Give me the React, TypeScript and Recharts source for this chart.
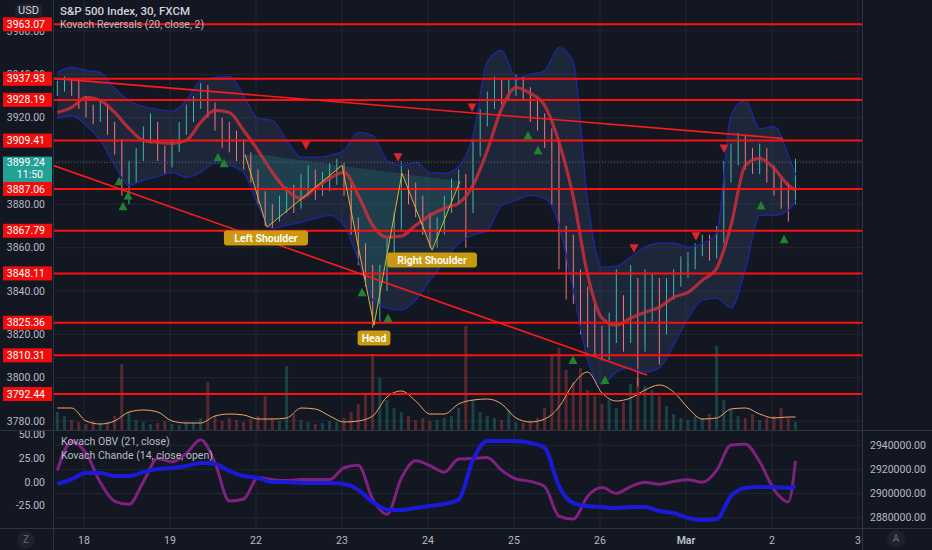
import React from "react";
import {
  ComposedChart,
  Bar,
  Line,
  Area,
  Scatter,
  XAxis,
  YAxis,
  CartesianGrid,
  ReferenceLine,
} from "recharts";

const BG = "#131722";
const GRID = "#222631";
const BORDER = "#2f3340";
const TEXT = "#b8bbc4";
const UP = "#3db7a9";
const DOWN = "#ea7880";
const FONT = "Roboto, 'Noto Sans', sans-serif";

// time axis: one slot per trading day (weekend squeezed out like TradingView)
const dayTicks = [0, 1, 2, 3, 4, 5, 6, 7, 8, 9];
const dayLabels = ["18", "19", "22", "23", "24", "25", "26", "Mar", "2", "3"];
const X_DOMAIN: [number, number] = [-0.3605, 9.0465];
const PRICE_DOMAIN: [number, number] = [3775.85, 3974.28];

const priceTicks = [3780, 3800, 3820, 3840, 3860, 3880, 3900, 3920, 3940, 3960];
const levels = [3963.07, 3937.93, 3928.19, 3909.41, 3887.06, 3867.79, 3848.11, 3825.36, 3810.31, 3792.44];
const lastPrice = 3899.24;
const lastClock = "11:50";

// 2h candles
const firstOpen = 3932;
const closes = [
  3934, 3937, 3933, 3927, 3924, 3921, 3925, 3916, 3908, 3890,
  3893, 3903, 3912, 3916, 3905, 3898, 3906, 3914, 3921, 3927,
  3932, 3925, 3918, 3914, 3910, 3906, 3902, 3894, 3884, 3876,
  3874, 3879, 3884, 3881, 3889, 3893, 3886, 3891, 3895, 3897,
  3888, 3872, 3858, 3846, 3834, 3845, 3858, 3870, 3892, 3886,
  3880, 3872, 3864, 3870, 3880, 3887, 3892, 3878, 3906, 3920,
  3928, 3936, 3931, 3935, 3938, 3933, 3924, 3918, 3912, 3906,
  3870, 3850, 3846, 3832, 3826, 3818, 3814, 3822, 3828, 3820,
  3838, 3816, 3832, 3842, 3824, 3840, 3846, 3850, 3853, 3858,
  3862, 3858, 3866, 3894, 3904, 3910, 3902, 3898, 3904, 3895,
  3888, 3884, 3880, 3899,
];
const highs = [
  3937, 3939, 3938, 3937, 3930, 3926, 3928, 3926, 3918, 3910,
  3900, 3906, 3916, 3922, 3918, 3907, 3910, 3918, 3926, 3930,
  3936, 3935, 3927, 3920, 3918, 3914, 3910, 3904, 3896, 3886,
  3880, 3884, 3888, 3889, 3894, 3898, 3896, 3895, 3899, 3901,
  3899, 3890, 3874, 3862, 3852, 3852, 3864, 3876, 3900, 3896,
  3890, 3884, 3876, 3874, 3884, 3892, 3896, 3894, 3910, 3924,
  3932, 3939, 3938, 3938, 3940, 3939, 3934, 3928, 3922, 3915,
  3910, 3870, 3866, 3850, 3842, 3834, 3824, 3830, 3850, 3838,
  3852, 3846, 3850, 3848, 3846, 3846, 3850, 3856, 3858, 3862,
  3866, 3866, 3870, 3900, 3908, 3913, 3912, 3906, 3908, 3906,
  3898, 3892, 3890, 3901,
];
const lows = [
  3930, 3932, 3930, 3924, 3920, 3917, 3918, 3912, 3903, 3884,
  3880, 3890, 3900, 3908, 3900, 3894, 3897, 3904, 3912, 3918,
  3924, 3920, 3914, 3906, 3904, 3900, 3896, 3890, 3880, 3870,
  3869, 3872, 3876, 3876, 3878, 3884, 3882, 3884, 3886, 3889,
  3884, 3866, 3852, 3842, 3823, 3826, 3840, 3852, 3868, 3880,
  3874, 3866, 3860, 3860, 3866, 3876, 3880, 3860, 3876, 3902,
  3916, 3924, 3926, 3928, 3930, 3928, 3918, 3914, 3906, 3880,
  3850, 3836, 3834, 3820, 3814, 3810, 3808, 3808, 3816, 3812,
  3816, 3796, 3812, 3826, 3806, 3820, 3836, 3842, 3846, 3850,
  3856, 3854, 3855, 3862, 3890, 3898, 3896, 3894, 3894, 3890,
  3884, 3878, 3872, 3880,
];
const volumes = [
  360, 280, 200, 160, 120, 180, 140, 160, 280, 1320,
  360, 200, 160, 120, 140, 180, 120, 100, 160, 140,
  240, 960, 280, 180, 240, 200, 160, 220, 280, 680,
  240, 180, 1280, 320, 200, 160, 120, 140, 180, 160,
  240, 360, 520, 720, 1520, 1040, 600, 440, 360, 280,
  200, 240, 180, 200, 240, 280, 440, 2080, 600, 360,
  280, 240, 200, 400, 160, 140, 180, 240, 440, 1520,
  1640, 1200, 960, 1240, 800, 680, 520, 600, 440, 560,
  920, 1040, 880, 800, 680, 480, 320, 240, 200, 280,
  240, 320, 1680, 600, 400, 280, 240, 320, 200, 240,
  280, 440, 240, 160,
];

// indicator series, sampled every second candle (plus the last one)
const bandUpper = [
  3940.8, 3943.1, 3941.7, 3940.8, 3933.5, 3927.9, 3925.2, 3923.8, 3922.9, 3927.9,
  3937.1, 3938.5, 3939.0, 3930.2, 3919.6, 3918.7, 3909.5, 3901.7, 3901.7, 3902.6,
  3904.9, 3913.2, 3911.8, 3900.3, 3898.0, 3899.4, 3894.7, 3894.3, 3897.5, 3911.8,
  3945.7, 3951.0, 3938.5, 3939.9, 3941.7, 3952.4, 3945.4, 3881.0, 3851.0, 3851.4,
  3855.6, 3860.2, 3862.0, 3862.0, 3860.2, 3862.0, 3866.6, 3921.0, 3927.9, 3914.9,
  3915.9, 3902.6, 3893.4,
];
const bandLower = [
  3919.6, 3921.0, 3916.4, 3909.5, 3898.0, 3888.8, 3891.1, 3892.9, 3894.7, 3892.4,
  3894.7, 3898.9, 3898.0, 3894.7, 3879.5, 3868.9, 3870.3, 3871.7, 3873.5, 3874.9,
  3870.3, 3854.2, 3835.8, 3832.1, 3831.2, 3835.8, 3845.0, 3853.3, 3862.0, 3865.7,
  3868.0, 3879.5, 3881.8, 3884.1, 3882.8, 3870.3, 3840.4, 3808.1, 3797.0, 3802.6,
  3804.5, 3802.6, 3804.5, 3815.0, 3827.5, 3835.8, 3836.7, 3832.1, 3850.0, 3874.9,
  3874.9, 3877.2, 3881.8,
];
const maLine = [
  3922.4, 3924.7, 3929.3, 3927.9, 3922.4, 3915.0, 3909.5, 3908.6, 3908.1, 3909.5,
  3917.8, 3923.3, 3922.4, 3914.1, 3904.9, 3894.7, 3886.5, 3882.8, 3887.4, 3892.0,
  3894.7, 3884.1, 3870.3, 3864.8, 3865.3, 3870.3, 3874.9, 3878.2, 3880.5, 3888.8,
  3904.9, 3924.2, 3933.9, 3931.2, 3925.6, 3908.6, 3883.2, 3847.3, 3827.5, 3824.2,
  3827.5, 3830.2, 3832.5, 3837.1, 3839.4, 3845.0, 3850.5, 3870.3, 3898.0, 3901.2,
  3896.6, 3888.8, 3886.5,
];
const volMa = [
  440, 440, 180, 120, 180, 360, 400, 360, 180, 140,
  140, 280, 320, 300, 220, 220, 240, 440, 420, 280,
  160, 180, 280, 660, 780, 580, 320, 320, 520, 600,
  620, 520, 240, 160, 220, 460, 920, 1160, 740, 580,
  640, 800, 900, 760, 440, 220, 240, 420, 440, 320,
  240, 260, 260,
];
const chande = [
  12, 42, 30, -0.7, -20.4, -23.5, 0, 24.5, 21, 30,
  44, 20, -20, -18, 4.5, 2.4, 1.3, 2.4, 2.4, 2.4,
  14.8, 17.5, -18, -34, 4, 22, 17, 10, 24, 24.5,
  25.5, 12, 3, 0.5, -5, -36, -39, -15, -6, -12,
  -5, -0.5, -2.5, 0.3, 2.2, -0.5, 12, 38.5, 39.5, 21,
  -8, -21, 22,
];
const obv = [
  2907900, 2912000, 2917000, 2917000, 2914500, 2914500, 2917800, 2920300, 2921200, 2922800,
  2925300, 2924500, 2918700, 2914500, 2912900, 2909500, 2909500, 2908700, 2908700, 2908700,
  2907900, 2903000, 2893000, 2886800, 2886300, 2888000, 2889600, 2891300, 2895000, 2928000,
  2943600, 2943600, 2943600, 2941900, 2938000, 2906000, 2892000, 2889600, 2888800, 2888000,
  2888800, 2888800, 2885500, 2883800, 2879700, 2878000, 2878800, 2897900, 2904600, 2905400,
  2905400, 2904600, 2906200,
];

// drawings
const upperTrendT = [-0.3605, 8.128];
const upperTrendP = [3938.1, 3910.4];
const lowerTrendT = [-0.3605, 6.547];
const lowerTrendP = [3898.0, 3801.2];

const hsT = [1.872, 2.128, 3.0, 3.372, 3.698, 4.047, 4.372];
const hsZig = [3903.0, 3869.4, 3898.0, 3824.2, 3894.3, 3858.8, 3890.6];
const hsNeck = [3903.0, 3902.6, 3897.7, 3895.8, 3894.1, 3892.3, 3890.6];
const hsLabelText = ["Left Shoulder", "Head", "Right Shoulder"];
const hsLabelT = [2.116, 3.372, 4.047];
const hsLabelP = [3864.4, 3818.3, 3854.3];

const buyT = [0.407, 0.512, 0.453, 1.558, 1.628, 3.233, 3.535, 5.163, 5.279, 5.686, 6.058, 7.872, 8.14];
const buyP = [3890.6, 3884.1, 3879.1, 3901.7, 3898.9, 3839.4, 3827.5, 3911.8, 3904.9, 3808.1, 3798.9, 3879.5, 3863.9];
const sellT = [2.581, 3.651, 4.512, 6.395, 7.116, 7.442];
const sellP = [3907.2, 3901.7, 3924.7, 3859.7, 3865.3, 3905.8];

const times = closes.map((_, i) => -0.31 + i / 12);
const lineTimes = times.filter((_, i) => i % 2 === 0 || i === times.length - 1);

const candles = times.map((t, i) => {
  const o = i === 0 ? firstOpen : closes[i - 1];
  const c = closes[i];
  return {
    t, o, c,
    hi: Math.max(highs[i], o, c),
    lo: Math.min(lows[i], o, c),
    v: volumes[i],
  };
});
const bandData = lineTimes.map((t, i) => ({
  t,
  up: bandUpper[i],
  lo: bandLower[i],
  range: [bandLower[i], bandUpper[i]],
  ma: maLine[i],
  vma: volMa[i],
}));
const chandeData = lineTimes.map((t, i) => ({ t, v: chande[i] }));
const obvData = lineTimes.map((t, i) => ({ t, v: obv[i] }));
const upperTrend = upperTrendT.map((t, i) => ({ t, p: upperTrendP[i] }));
const lowerTrend = lowerTrendT.map((t, i) => ({ t, p: lowerTrendP[i] }));
const hsData = hsT.map((t, i) => ({ t, zig: hsZig[i], band: [hsZig[i], hsNeck[i]] }));
const hsLabels = hsLabelT.map((t, i) => ({ t, p: hsLabelP[i], text: hsLabelText[i] }));
const buys = buyT.map((t, i) => ({ t, p: buyP[i] }));
const sells = sellT.map((t, i) => ({ t, p: sellP[i] }));

const Candle = (props: any) => {
  const { x, y, width, height, payload } = props;
  const { o, c, hi, lo } = payload;
  const color = c >= o ? UP : DOWN;
  const k = height / (hi - lo || 1);
  const yO = y + (hi - o) * k;
  const yC = y + (hi - c) * k;
  const cx = x + width / 2;
  return (
    <g>
      <line x1={cx} x2={cx} y1={y} y2={y + height} stroke={color} strokeWidth={1} />
      <rect x={x} y={Math.min(yO, yC)} width={width} height={Math.max(1, Math.abs(yO - yC))} fill={color} />
    </g>
  );
};

const VolumeBar = (props: any) => {
  const { x, y, width, height, payload } = props;
  return (
    <rect x={x} y={y} width={width} height={Math.max(0, height)}
      fill={payload.c >= payload.o ? "#26a69a" : "#ef5350"} fillOpacity={0.3} />
  );
};

const UpTri = (props: any) => {
  const { cx, cy } = props;
  return <path d={`M${cx},${cy - 4.5} L${cx + 4.5},${cy + 4} L${cx - 4.5},${cy + 4} Z`} fill="#23822f" />;
};
const DownTri = (props: any) => {
  const { cx, cy } = props;
  return <path d={`M${cx - 4.5},${cy - 4} L${cx + 4.5},${cy - 4} L${cx},${cy + 4.5} Z`} fill="#d8262b" />;
};

const PatternLabel = (props: any) => {
  const { cx, cy, payload } = props;
  const w = payload.text.length * 5.7 + 10;
  return (
    <g>
      <rect x={cx - w / 2} y={cy - 7.5} width={w} height={15} rx={3} fill="#c99a10" />
      <text x={cx} y={cy} dy={3.8} textAnchor="middle" fill="#ffffff" fontSize={10.5} fontWeight={600} fontFamily={FONT}>
        {payload.text}
      </text>
    </g>
  );
};

const PriceTick = (props: any) => {
  const { x, y, payload } = props;
  const v = payload.value;
  if (levels.includes(v)) {
    return (
      <g>
        <rect x={x - 42} y={y - 7} width={49} height={14} fill="#f20d0d" />
        <text x={x} y={y} dy={3.6} textAnchor="end" fill="#ffffff" fontSize={10.5} fontFamily={FONT}>{v.toFixed(2)}</text>
      </g>
    );
  }
  if (v === lastPrice) {
    return (
      <g>
        <rect x={x - 42} y={y - 6} width={49} height={26} fill="#22a195" />
        <text x={x} y={y} dy={3.6} textAnchor="end" fill="#ffffff" fontSize={10.5} fontFamily={FONT}>{v.toFixed(2)}</text>
        <text x={x - 2} y={y} dy={15.6} textAnchor="end" fill="#ffffff" fontSize={10.5} fontFamily={FONT}>{lastClock}</text>
      </g>
    );
  }
  return (
    <text x={x} y={y} dy={3.6} textAnchor="end" fill={TEXT} fontSize={10.5} fontFamily={FONT}>{v.toFixed(2)}</text>
  );
};

const DayTick = (props: any) => {
  const { x, y, payload } = props;
  const label = dayLabels[payload.value];
  return (
    <text x={x} y={y} dy={8} textAnchor="middle" fill={TEXT} fontSize={10.5}
      fontWeight={label === "Mar" ? 700 : 400} fontFamily={FONT}>
      {label}
    </text>
  );
};

const abs = (style: React.CSSProperties): React.CSSProperties => ({ position: "absolute", ...style });

export default function App() {
  return (
    <div style={abs({ left: 0, top: 0, width: 932, height: 550, background: BG, fontFamily: FONT, overflow: "hidden" })}>
      <div style={abs({ left: 0, top: 0 })}>
        <ComposedChart width={932} height={430} data={candles} margin={{ top: 0, right: 70, bottom: 0, left: 0 }}>
          <CartesianGrid stroke={GRID} horizontalValues={priceTicks} verticalValues={dayTicks} />
          <XAxis type="number" dataKey="t" domain={X_DOMAIN} allowDataOverflow hide />
          <XAxis xAxisId="v" type="number" dataKey="t" domain={X_DOMAIN} allowDataOverflow hide />
          <YAxis
            width={53}
            domain={PRICE_DOMAIN}
            allowDataOverflow
            ticks={[...priceTicks, lastPrice, ...levels]}
            interval={0}
            tick={PriceTick}
            tickLine={false}
            axisLine={false}
          />
          <YAxis yAxisId="vol" hide domain={[0, 8600]} allowDataOverflow />

          <Area data={bandData} dataKey="range" type="monotone" stroke="none" fill="#41598a" fillOpacity={0.24} isAnimationActive={false} />
          <Bar xAxisId="v" yAxisId="vol" dataKey="v" barSize={3} shape={VolumeBar} isAnimationActive={false} />
          <Line xAxisId="v" yAxisId="vol" data={bandData} dataKey="vma" type="monotone" stroke="#f0a868" strokeWidth={1} dot={false} isAnimationActive={false} />
          <Area data={hsData} dataKey="band" type="linear" stroke="none" fill="#26a69a" fillOpacity={0.2} isAnimationActive={false} />
          <Bar dataKey={(d: any) => [d.lo, d.hi]} barSize={5} shape={Candle} isAnimationActive={false} />
          <Line data={bandData} dataKey="up" type="monotone" stroke="#1c2898" strokeWidth={1.4} dot={false} isAnimationActive={false} />
          <Line data={bandData} dataKey="lo" type="monotone" stroke="#1c2898" strokeWidth={1.4} dot={false} isAnimationActive={false} />
          <Line data={bandData} dataKey="ma" type="monotone" stroke="#cf2f3b" strokeOpacity={0.82} strokeWidth={3.2} dot={false} isAnimationActive={false} />

          <ReferenceLine y={lastPrice} stroke="#5a5e6a" strokeDasharray="1 2" />
          {levels.map((lv) => (
            <ReferenceLine key={lv} y={lv} stroke="#ff1010" strokeWidth={2} />
          ))}
          <Line data={upperTrend} dataKey="p" type="linear" stroke="#ff1a1a" strokeWidth={1.6} dot={false} isAnimationActive={false} />
          <Line data={lowerTrend} dataKey="p" type="linear" stroke="#ff1a1a" strokeWidth={1.6} dot={false} isAnimationActive={false} />
          <Line data={hsData} dataKey="zig" type="linear" stroke="#d9b233" strokeWidth={1} dot={false} isAnimationActive={false} />

          <Scatter data={buys} dataKey="p" shape={UpTri} isAnimationActive={false} />
          <Scatter data={sells} dataKey="p" shape={DownTri} isAnimationActive={false} />
          <Scatter data={hsLabels} dataKey="p" shape={PatternLabel} isAnimationActive={false} />
        </ComposedChart>
      </div>

      <div style={abs({ left: 0, top: 420 })}>
        <ComposedChart width={932} height={130} margin={{ top: 10, right: 0, bottom: 0, left: 0 }}>
          <CartesianGrid yAxisId="obv" stroke={GRID} horizontalValues={[2880000, 2900000, 2920000, 2940000]} verticalValues={dayTicks} />
          <XAxis type="number" dataKey="t" domain={X_DOMAIN} allowDataOverflow ticks={dayTicks} interval={0}
            height={22} tick={DayTick} tickLine={false} axisLine={false} />
          <YAxis yAxisId="ch" width={53} domain={[-48.3, 54.3]} allowDataOverflow ticks={[50, 25, 0, -25]} interval={0}
            tickFormatter={(v: number) => v.toFixed(2)} tick={{ fill: TEXT, fontSize: 10.5, fontFamily: FONT }}
            tickLine={false} axisLine={false} />
          <YAxis yAxisId="obv" orientation="right" width={70} domain={[2871400, 2952700]} allowDataOverflow
            ticks={[2940000, 2920000, 2900000, 2880000]} interval={0}
            tickFormatter={(v: number) => v.toFixed(2)} tick={{ fill: TEXT, fontSize: 10.5, fontFamily: FONT }}
            tickLine={false} axisLine={false} />
          <Line yAxisId="ch" data={chandeData} dataKey="v" type="monotone" stroke="#7e2181" strokeWidth={3} dot={false} isAnimationActive={false} />
          <Line yAxisId="obv" data={obvData} dataKey="v" type="monotone" stroke="#1a1ad8" strokeWidth={4} dot={false} isAnimationActive={false} />
        </ComposedChart>
      </div>

      {/* pane borders */}
      <div style={abs({ left: 53, top: 0, width: 1, height: 550, background: BORDER })} />
      <div style={abs({ left: 862, top: 0, width: 1, height: 550, background: BORDER })} />
      <div style={abs({ left: 0, top: 430, width: 932, height: 1, background: BORDER })} />
      <div style={abs({ left: 0, top: 528, width: 932, height: 1, background: BORDER })} />

      {/* legends */}
      <div style={abs({ left: 15, top: 4, padding: "0 3px", borderRadius: 3, background: "#1e222d", color: "#d1d4dc", fontSize: 11, lineHeight: "14px" })}>USD</div>
      <div style={abs({ left: 60, top: 4, color: "#d1d4dc", fontSize: 11.5, fontWeight: 500, lineHeight: "15px" })}>S&amp;P 500 Index, 30, FXCM</div>
      <div style={abs({ left: 60, top: 18, color: TEXT, fontSize: 10.5, lineHeight: "14px" })}>Kovach Reversals (20, close, 2)</div>
      <div style={abs({ left: 61, top: 435, color: TEXT, fontSize: 10.5, lineHeight: "14px" })}>Kovach OBV (21, close)</div>
      <div style={abs({ left: 61, top: 449, color: TEXT, fontSize: 10.5, lineHeight: "14px" })}>Kovach Chande (14, close, open)</div>

      {/* corner buttons */}
      <div style={abs({ left: 17, top: 531, width: 18, height: 18, borderRadius: 9, background: "#1e222d", color: "#6a6d78", fontSize: 10, lineHeight: "18px", textAlign: "center" })}>Z</div>
      <div style={abs({ left: 887, top: 530, width: 18, height: 18, borderRadius: 9, background: "#1e222d", color: "#6a6d78", fontSize: 10, lineHeight: "18px", textAlign: "center" })}>A</div>
    </div>
  );
}
